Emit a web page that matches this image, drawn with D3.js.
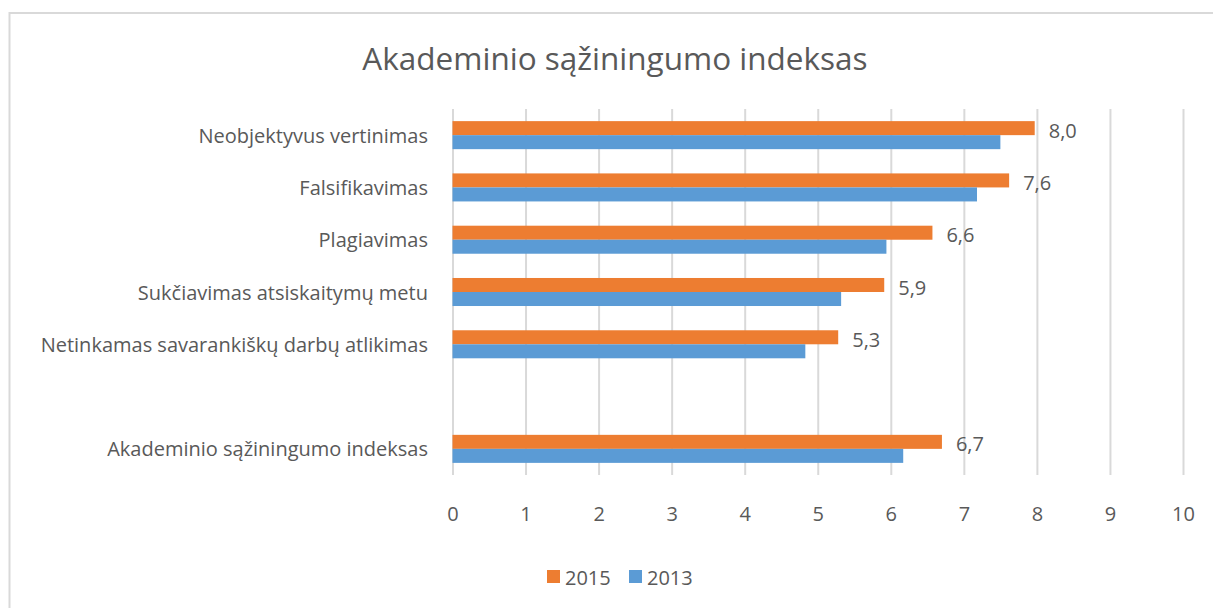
<!DOCTYPE html>
<html>
<head>
<meta charset="utf-8">
<script src="https://cdn.jsdelivr.net/npm/d3@7"></script>
<style>
  body { margin: 0; background: #fff; }
  text { font-family: "Open Sans", sans-serif; fill: #595959; }
</style>
</head>
<body>
<div id="chart"></div>
<script>
// data
var categories = [
  "Neobjektyvus vertinimas",
  "Falsifikavimas",
  "Plagiavimas",
  "Sukčiavimas atsiskaitymų metu",
  "Netinkamas savarankiškų darbų atlikimas",
  "",
  "Akademinio sąžiningumo indeksas"
];
var series = ["2015", "2013"];
var values2015 = [7.97, 7.62, 6.57, 5.91, 5.28, null, 6.70];
var values2013 = [7.50, 7.18, 5.94, 5.32, 4.83, null, 6.17];
var xTicks = [0, 1, 2, 3, 4, 5, 6, 7, 8, 9, 10];
var colors = { "2015": "#ed7d31", "2013": "#5b9bd5" };

var W = 1213, H = 608;
var margin = { top: 109, right: 30, bottom: 133, left: 452.5 },
  width = 1183 - margin.left,
  height = 475 - margin.top;

var svg = d3.select("#chart").append("svg")
  .attr("width", W)
  .attr("height", H);

// chart frame
svg.append("rect")
  .attr("x", 9.5).attr("y", 13)
  .attr("width", W + 20).attr("height", H + 20)
  .attr("fill", "none")
  .attr("stroke", "#d9d9d9")
  .attr("stroke-width", 2);

svg.append("text")
  .attr("x", 615).attr("y", 57)
  .attr("text-anchor", "middle")
  .attr("dominant-baseline", "central")
  .style("font-size", "31.5px")
  .text("Akademinio sąžiningumo indeksas");

var g = svg.append("g")
  .attr("transform", "translate(" + margin.left + "," + margin.top + ")");

var x = d3.scaleLinear().domain([0, 10]).range([0, width]);
var y = d3.scaleBand()
  .domain(d3.range(categories.length))
  .range([0, height])
  .paddingInner(0.464)
  .paddingOuter(0.232);
var ySub = d3.scaleBand().domain(series).range([0, y.bandwidth()]);

// grid lines
var xAxis = d3.axisBottom(x).tickValues(xTicks).tickSize(-height).tickPadding(0);
g.append("g")
  .attr("transform", "translate(0," + height + ")")
  .call(customXAxis);

function customXAxis(g) {
  g.call(xAxis);
  g.select(".domain").remove();
  g.selectAll(".tick line").attr("stroke", "#d9d9d9").attr("stroke-width", 2);
  g.selectAll(".tick text")
    .attr("y", 39)
    .attr("dy", "0.35em")
    .style("font-size", "20px")
    .style("fill", "#595959")
    .style("font-family", "'Open Sans', sans-serif");
}

// category labels
g.append("g")
  .selectAll("text")
  .data(categories)
  .enter()
  .append("text")
  .attr("x", 428 - margin.left)
  .attr("y", function (d, i) { return y(i) + y.bandwidth() / 2; })
  .attr("text-anchor", "end")
  .attr("dominant-baseline", "central")
  .style("font-size", "20px")
  .text(function (d) { return d; });

var rows = categories.map(function (c, i) {
  return { i: i, "2015": values2015[i], "2013": values2013[i] };
}).filter(function (d) { return d["2015"] != null; });

var groups = g.append("g")
  .selectAll("g")
  .data(rows)
  .enter()
  .append("g")
  .attr("transform", function (d) { return "translate(0," + y(d.i) + ")"; });

groups.selectAll("rect")
  .data(function (d) { return series.map(function (s) { return { s: s, v: d[s] }; }); })
  .enter()
  .append("rect")
  .attr("x", x(0))
  .attr("y", function (d) { return ySub(d.s); })
  .attr("width", function (d) { return x(d.v) - x(0); })
  .attr("height", ySub.bandwidth())
  .attr("fill", function (d) { return colors[d.s]; });

// data labels for 2015
groups.append("text")
  .attr("x", function (d) { return x(d["2015"]) + 14; })
  .attr("y", function (d) { return ySub("2015") + ySub.bandwidth() / 2 + 2; })
  .attr("dominant-baseline", "central")
  .style("font-size", "20px")
  .text(function (d) { return d3.format(".1f")(d["2015"]).replace(".", ","); });

// legend
var legend = svg.append("g").attr("transform", "translate(547,570)");
var lx = [0, 82];
series.forEach(function (s, i) {
  legend.append("rect")
    .attr("x", lx[i]).attr("y", 0)
    .attr("width", 13).attr("height", 13)
    .attr("fill", colors[s]);
  legend.append("text")
    .attr("x", lx[i] + 18).attr("y", 7)
    .attr("dominant-baseline", "central")
    .style("font-size", "20px")
    .text(s);
});
</script>
</body>
</html>
